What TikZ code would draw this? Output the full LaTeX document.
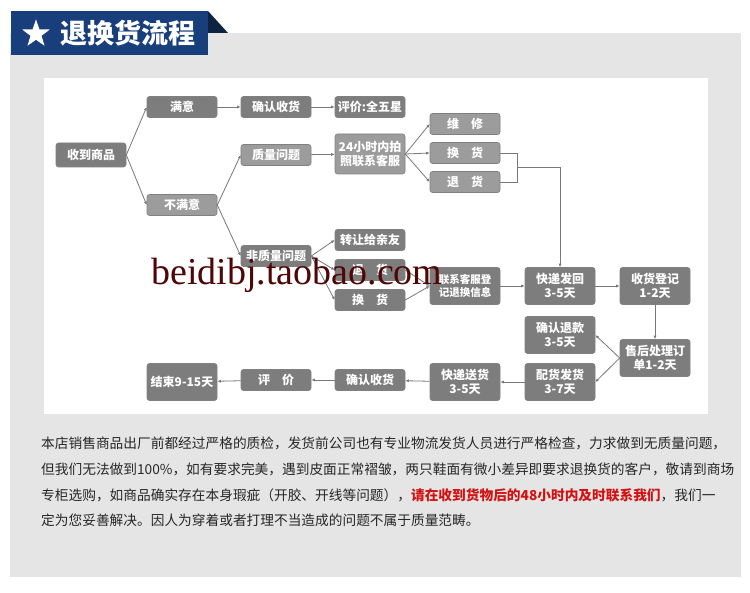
\documentclass[tikz,border=0pt]{standalone}
\usepackage{fontspec}
\setmainfont{Noto Sans CJK SC}
\newfontfamily\wmfont{Liberation Serif}
\usetikzlibrary{shapes.geometric,arrows.meta}
\definecolor{banner}{RGB}{24,63,124}
\definecolor{bannerdark}{RGB}{14,34,66}
\definecolor{panel}{RGB}{230,229,230}
\definecolor{boxdark}{RGB}{125,125,125}
\definecolor{boxlight}{RGB}{156,156,156}
\definecolor{linkgray}{RGB}{120,120,120}
\definecolor{notered}{RGB}{210,18,18}
\definecolor{wmred}{RGB}{78,6,6}

\begin{document}
\begin{tikzpicture}[x=1pt,y=-1pt,
  box/.style={rectangle,rounded corners=2.5pt,draw=black!50,line width=0.6pt,text=white,
    font=\fontsize{12}{14}\selectfont\bfseries,minimum width=70,minimum height=21,
    inner sep=1pt,align=center},
  tall/.style={minimum height=37},
  link/.style={draw=linkgray,line width=0.8pt,-{Latex[length=3.5pt,width=3pt]}},
  bar/.style={draw=linkgray,line width=0.8pt},
  note/.style={anchor=west,inner sep=0,text=black!85,font=\fontsize{13.7}{16}\selectfont}]
\useasboundingbox (0,0) rectangle (750,593);

% panels and title
\fill[panel] (10,33) rectangle (741,577);
\fill[white] (44,78) rectangle (708,414);
\fill[banner] (11,11) rectangle (208,55);
\fill[bannerdark] (208,11) -- (228,33) -- (208,33) -- cycle;
\node[star,star points=5,star point ratio=2.5,fill=white,inner sep=0,minimum size=29] (star) at (36,34) {};
\node[text=white,font=\fontsize{27}{29}\selectfont\bfseries] (title) at (128,33) {退换货流程};

% first column
\node[box,fill=boxdark,minimum height=24] (goods) at (91,155) {收到商品};
\node[box,fill=boxdark] (ok) at (182,107) {满意};
\node[box,fill=boxlight] (notok) at (182,205) {不满意};

% satisfied branch
\node[box,fill=boxdark] (confirm) at (276,107) {确认收货};
\node[box,fill=boxdark] (stars) at (370,107) {评价:全五星};

% quality branch
\node[box,fill=boxlight] (quality) at (276,155) {质量问题};
\node[box,fill=boxlight,minimum height=40] (photo) at (370,154) {24小时内拍\\照联系客服};
\node[box,fill=boxlight] (repair) at (465,124) {维\hspace{1em}修};
\node[box,fill=boxlight] (swapA) at (465,153) {换\hspace{1em}货};
\node[box,fill=boxlight] (backA) at (465,182) {退\hspace{1em}货};
\coordinate (join) at (517,167);

% non quality branch
\node[box,fill=boxdark] (nonq) at (276,256) {非质量问题};
\node[box,fill=boxdark] (gift) at (370,240) {转让给亲友};
\node[box,fill=boxdark] (backB) at (370,270) {退\hspace{1em}货};
\node[box,fill=boxdark] (swapB) at (370,300) {换\hspace{1em}货};
\node[box,fill=boxdark,tall,font=\fontsize{10.5}{13}\selectfont\bfseries] (register) at (465,286) {联系客服登\\记退换信息};

% after-sales
\node[box,fill=boxdark,tall] (sendback) at (560,286) {快递发回\\3-5天};
\node[box,fill=boxdark,tall] (receive) at (655,286) {收货登记\\1-2天};
\node[box,fill=boxdark,tall] (refund) at (560,335) {确认退款\\3-5天};
\node[box,fill=boxdark,tall] (process) at (655,358) {售后处理订\\单1-2天};
\node[box,fill=boxdark,tall] (pack) at (560,382) {配货发货\\3-7天};
\node[box,fill=boxdark,tall] (deliver) at (465,382) {快递送货\\3-5天};
\node[box,fill=boxdark] (confirmB) at (370,380) {确认收货};
\node[box,fill=boxdark] (rate) at (276,380) {评\hspace{1em}价};
\node[box,fill=boxdark,tall] (finish) at (182,382) {结束9-15天};

% connectors
\draw[link] (goods.east) -- (ok.west);
\draw[link] (goods.east) -- (notok.west);
\draw[link] (ok) -- (confirm);
\draw[link] (confirm) -- (stars);
\draw[link] (notok.east) -- (quality.west);
\draw[link] (notok.east) -- (nonq.west);
\draw[link] (quality) -- (photo);
\draw[link] (photo.east) -- (repair.west);
\draw[link] (photo.east) -- (swapA.west);
\draw[link] (photo.east) -- (backA.west);
\draw[bar] (swapA.east) -| (join);
\draw[bar] (backA.east) -| (join);
\draw[link] (join) -| (sendback.north);
\draw[link] (nonq.east) -- (gift.west);
\draw[link] (nonq.east) -- (backB.west);
\draw[link] (nonq.east) -- (swapB.west);
\draw[link] (backB.east) -- (register.west);
\draw[link] (swapB.east) -- (register.west);
\draw[link] (register) -- (sendback);
\draw[link] (sendback) -- (receive);
\draw[link] (receive) -- (process);
\draw[link] (process.west) -- (refund.east);
\draw[link] (process.west) -- (pack.east);
\draw[link] (pack) -- (deliver);
\draw[link] (deliver) -- (confirmB);
\draw[link] (confirmB) -- (rate);
\draw[link] (rate) -- (finish);

% watermark
\node[anchor=base west,inner sep=0,text=wmred,font=\wmfont\fontsize{38}{38}\selectfont] (mark) at (151,285) {beidibj.taobao.com};

% notes
\node[note] (lineA) at (41,443) {本店销售商品出厂前都经过严格的质检，发货前公司也有专业物流发货人员进行严格检查，力求做到无质量问题，};
\node[note] (lineB) at (41,469) {但我们无法做到100\%，如有要求完美，遇到皮面正常褶皱，两只鞋面有微小差异即要求退换货的客户，敬请到商场};
\node[note] (lineC) at (41,495) {专柜选购，如商品确实存在本身瑕疵（开胶、开线等问题），{\color{notered}\bfseries 请在收到货物后的48小时内及时联系我们}，我们一};
\node[note] (lineD) at (41,520) {定为您妥善解决。因人为穿着或者打理不当造成的问题不属于质量范畴。};
\end{tikzpicture}
\end{document}
